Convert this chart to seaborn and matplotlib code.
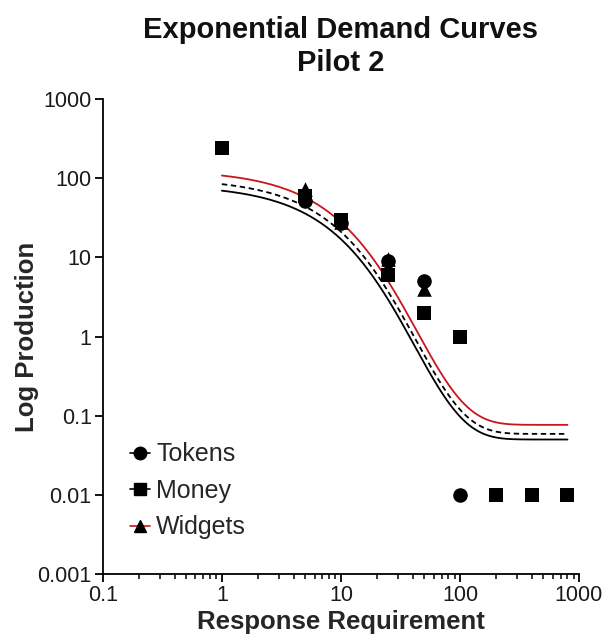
import numpy as np
import pandas as pd
import matplotlib
matplotlib.use("Agg")
import matplotlib.pyplot as plt
from matplotlib.lines import Line2D
import seaborn as sns

# Observed production at each response requirement
tokens_fr = [5, 10, 25, 50, 100]
tokens_q = [52, 27, 9, 5, 0.01]
money_fr = [1, 5, 10, 25, 50, 100, 200, 400, 800]
money_q = [240, 60, 30, 6, 2, 1, 0.01, 0.01, 0.01]
widgets_fr = [5, 10, 25, 50]
widgets_q = [72, 28, 9.5, 4]

# Exponential demand fits: log10 Q = log10 Q0 + k * (exp(-alpha * Q0 * C) - 1)
series = ["Tokens", "Money", "Widgets"]
fit_q0 = [83, 100, 128]
fit_k = [3.22, 3.23, 3.223]
fit_alpha = [2.9e-4, 2.35e-4, 1.8e-4]
fit_range = [1, 800]

sns.set_style("ticks")
plt.rcParams["font.family"] = ["Liberation Sans", "DejaVu Sans"]

obs = pd.concat([
    pd.DataFrame({"FR": widgets_fr, "Q": widgets_q, "Commodity": "Widgets"}),
    pd.DataFrame({"FR": money_fr, "Q": money_q, "Commodity": "Money"}),
    pd.DataFrame({"FR": tokens_fr, "Q": tokens_q, "Commodity": "Tokens"}),
])

c = np.logspace(np.log10(fit_range[0]), np.log10(fit_range[1]), 400)
curves = []
for name, q0, k, a in zip(series, fit_q0, fit_k, fit_alpha):
    logq = np.log10(q0) + k * (np.exp(-a * q0 * c) - 1)
    curves.append(pd.DataFrame({"FR": c, "Q": 10 ** logq, "Commodity": name}))
curves = pd.concat(curves)

fig = plt.figure(figsize=(6.05, 6.41), dpi=100)
ax = fig.add_axes([0.170, 0.1045, 0.787, 0.741])

line_colors = {"Tokens": "black", "Money": "black", "Widgets": "#c8161d"}
for name in series:
    sub = curves[curves["Commodity"] == name]
    sns.lineplot(data=sub, x="FR", y="Q", color=line_colors[name],
                 linewidth=1.3, ax=ax, legend=False)
    if name == "Money":
        ax.lines[-1].set_dashes((3, 2))

markers = {"Tokens": "o", "Money": "s", "Widgets": "^"}
for name in ["Widgets", "Money", "Tokens"]:
    sub = obs[obs["Commodity"] == name]
    sns.scatterplot(data=sub, x="FR", y="Q", marker=markers[name], color="black",
                    s=110, edgecolor="black", linewidth=0, ax=ax, legend=False,
                    zorder=3, clip_on=False)

ax.set_xscale("log")
ax.set_yscale("log")
ax.set_xlim(0.1, 1000)
ax.set_ylim(0.001, 1000)
ax.set_xticks([0.1, 1, 10, 100, 1000])
ax.set_xticklabels(["0.1", "1", "10", "100", "1000"])
ax.set_yticks([0.001, 0.01, 0.1, 1, 10, 100, 1000])
ax.set_yticklabels(["0.001", "0.01", "0.1", "1", "10", "100", "1000"])
ax.yaxis.set_minor_locator(matplotlib.ticker.NullLocator())
ax.xaxis.set_minor_locator(matplotlib.ticker.LogLocator(base=10, subs=np.arange(2, 10)))
ax.xaxis.set_minor_formatter(matplotlib.ticker.NullFormatter())
ax.tick_params(axis="both", which="major", length=6, width=1.3, labelsize=15.5,
               color="black", labelcolor="#1a1a1a", pad=2)
ax.tick_params(axis="x", which="minor", length=3.5, width=1.1, color="black")
for side in ["left", "bottom"]:
    ax.spines[side].set_linewidth(1.3)
    ax.spines[side].set_color("black")
sns.despine(ax=ax)

ax.set_xlabel("Response Requirement", fontsize=18.5, fontweight="bold", labelpad=3)
ax.set_ylabel("Log Production", fontsize=18.5, fontweight="bold", labelpad=-1)
ax.set_title("Exponential Demand Curves\nPilot 2", fontsize=21, fontweight="bold",
             pad=20, linespacing=1.25, color="#111111")

handles = [
    Line2D([], [], color="black", marker="o", markersize=9, linewidth=1.2),
    Line2D([], [], color="black", marker="s", markersize=9, linewidth=1.2),
    Line2D([], [], color="#c8161d", marker="^", markersize=9, linewidth=1.2,
           markerfacecolor="black", markeredgecolor="black"),
]
ax.legend(handles, series, loc="upper left", bbox_to_anchor=(0.057, 0.277),
          frameon=False, fontsize=18, handlelength=0.8, handletextpad=0.25,
          labelspacing=0.5, borderaxespad=0, borderpad=0)

fig.savefig("out.png", dpi=100)
